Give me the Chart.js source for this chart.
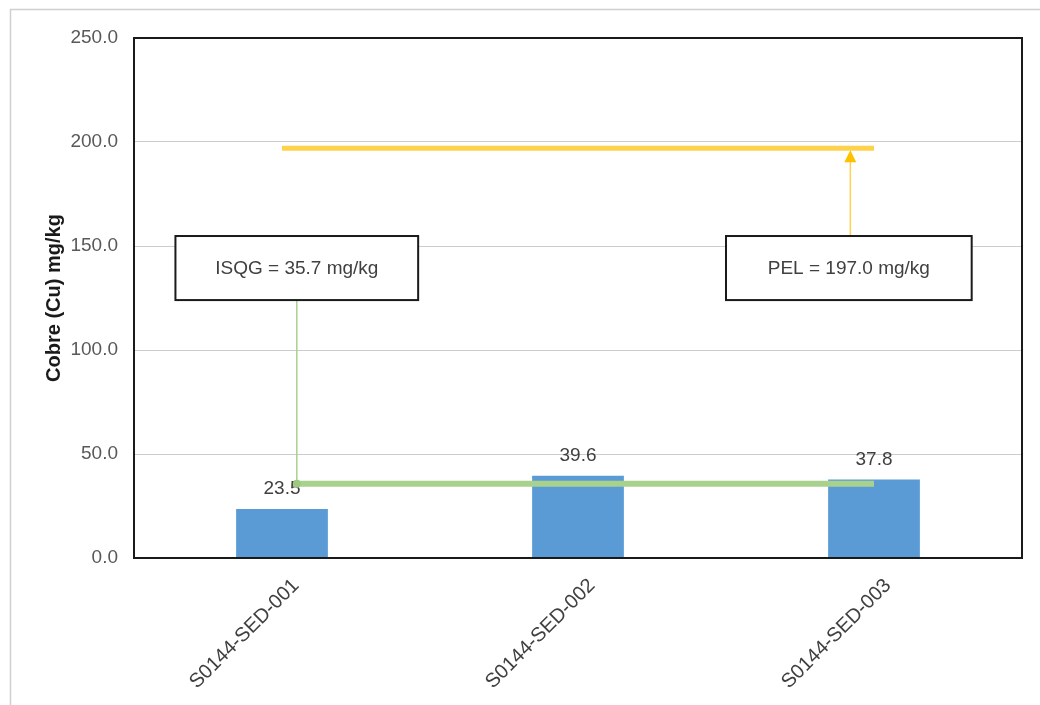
<!DOCTYPE html>
<html>
<head>
<meta charset="utf-8">
<script src="https://cdn.jsdelivr.net/npm/chart.js@4.4.1/dist/chart.umd.min.js"></script>
<style>
  html, body { margin: 0; padding: 0; background: #ffffff; }
  #wrap { width: 1040px; height: 705px; position: relative; }
</style>
</head>
<body>
<div id="wrap"><canvas id="chart" width="1040" height="705"></canvas></div>
<script>
// Sample stations and copper concentrations (mg/kg)
const categories = ['S0144-SED-001', 'S0144-SED-002', 'S0144-SED-003'];
const copperValues = [23.5, 39.6, 37.8];

// Sediment quality guidelines (mg/kg)
const isqgValue = 35.7;
const pelValue = 197.0;
const guidelineLabels = ['ISQG = 35.7 mg/kg', 'PEL = 197.0 mg/kg'];

// Guideline line extents, in station index units
const isqgSpan = [0.04, 2.0];
const pelSpan = [0.0, 2.0];

// Y axis range
const yMin = 0, yMax = 250, yStep = 50;

const FONT = "'Liberation Sans', Arial, sans-serif";
const TEXT = '#404040';

// Callout boxes: [xFrom, xTo] in station units, [yBottom, yTop] in mg/kg,
// plus the connector anchor (x in station units) and the guideline it points to
const callouts = [
  { text: guidelineLabels[0], x: [-0.36, 0.46], y: [124, 154.8], anchorX: 0.05, target: isqgValue, color: '#a9d18e', arrow: false, fromTop: false },
  { text: guidelineLabels[1], x: [1.5, 2.33], y: [124, 154.8], anchorX: 1.92, target: pelValue, color: '#ffd24d', arrow: true, fromTop: true }
];

const framePlugin = {
  id: 'frame',
  beforeDraw(chart) {
    const ctx = chart.ctx;
    ctx.save();
    ctx.fillStyle = '#ffffff';
    ctx.fillRect(0, 0, chart.width, chart.height);
    ctx.strokeStyle = '#cfcfcf';
    ctx.lineWidth = 1.5;
    ctx.beginPath();
    ctx.moveTo(10.5, chart.height);
    ctx.lineTo(10.5, 9.5);
    ctx.lineTo(chart.width, 9.5);
    ctx.stroke();
    ctx.restore();
  },
  afterDatasetsDraw(chart) {
    const ctx = chart.ctx;
    const a = chart.chartArea;
    const xs = chart.scales.x;
    const ys = chart.scales.y;

    // value labels above bars
    const meta = chart.getDatasetMeta(0);
    ctx.save();
    ctx.font = '19px ' + FONT;
    ctx.fillStyle = TEXT;
    ctx.textAlign = 'center';
    ctx.textBaseline = 'middle';
    meta.data.forEach((bar, i) => {
      ctx.fillText(copperValues[i].toFixed(1), bar.x, bar.y - 20);
    });
    ctx.restore();

    // connectors and callout boxes
    callouts.forEach(c => {
      const left = xs.getPixelForValue(c.x[0]);
      const right = xs.getPixelForValue(c.x[1]);
      const top = ys.getPixelForValue(c.y[1]);
      const bottom = ys.getPixelForValue(c.y[0]);
      const ax = xs.getPixelForValue(c.anchorX);
      const ty = ys.getPixelForValue(c.target);

      ctx.save();
      ctx.strokeStyle = c.color;
      ctx.lineWidth = 1.5;
      ctx.beginPath();
      if (c.fromTop) {
        ctx.moveTo(ax, top);
        ctx.lineTo(ax, ty + 12);
      } else {
        ctx.moveTo(ax, bottom);
        ctx.lineTo(ax, ty);
      }
      ctx.stroke();
      if (c.arrow) {
        ctx.fillStyle = '#ffc000';
        ctx.beginPath();
        ctx.moveTo(ax, ty + 2);
        ctx.lineTo(ax - 6, ty + 14);
        ctx.lineTo(ax + 6, ty + 14);
        ctx.closePath();
        ctx.fill();
      } else {
        ctx.fillStyle = '#9cc97f';
        ctx.beginPath();
        ctx.ellipse(ax, ty, 4, 4, 0, 0, Math.PI * 2);
        ctx.fill();
      }

      ctx.fillStyle = '#ffffff';
      ctx.fillRect(left, top, right - left, bottom - top);
      ctx.strokeStyle = '#1a1a1a';
      ctx.lineWidth = 2;
      ctx.strokeRect(left, top, right - left, bottom - top);
      ctx.font = '19px ' + FONT;
      ctx.fillStyle = TEXT;
      ctx.textAlign = 'center';
      ctx.textBaseline = 'middle';
      ctx.fillText(c.text, (left + right) / 2, (top + bottom) / 2 + 1);
      ctx.restore();
    });

    // plot border
    ctx.save();
    ctx.strokeStyle = '#1a1a1a';
    ctx.lineWidth = 2;
    ctx.strokeRect(a.left, a.top, a.right - a.left, a.bottom - a.top);
    ctx.restore();
  }
};

new Chart(document.getElementById('chart'), {
  type: 'bar',
  data: {
    datasets: [
      {
        type: 'bar',
        label: 'Cobre (Cu)',
        data: copperValues.map((v, i) => ({ x: i, y: v })),
        backgroundColor: '#5b9bd5',
        borderWidth: 0,
        barPercentage: 0.31,
        categoryPercentage: 1.0,
        order: 2
      },
      {
        type: 'line',
        label: 'ISQG',
        data: isqgSpan.map(x => ({ x: x, y: isqgValue })),
        borderColor: '#a9d18e',
        borderWidth: 6,
        pointRadius: 0,
        order: 1
      },
      {
        type: 'line',
        label: 'PEL',
        data: pelSpan.map(x => ({ x: x, y: pelValue })),
        borderColor: '#ffd24d',
        borderWidth: 5,
        pointRadius: 0,
        order: 1
      }
    ]
  },
  options: {
    responsive: false,
    animation: false,
    layout: { padding: { left: 10, top: 38, right: 18, bottom: 0 } },
    plugins: {
      legend: { display: false },
      tooltip: { enabled: false }
    },
    scales: {
      x: {
        type: 'linear',
        min: -0.5,
        max: 2.5,
        offset: false,
        grid: { display: false, drawTicks: false },
        border: { display: false },
        afterBuildTicks(scale) {
          scale.ticks = categories.map((_, i) => ({ value: i }));
        },
        ticks: {
          minRotation: 45,
          maxRotation: 45,
          autoSkip: false,
          padding: 16,
          labelOffset: 14,
          color: TEXT,
          font: { family: FONT, size: 20 },
          callback: v => categories[v]
        },
        afterFit(scale) { scale.height = 147; }
      },
      y: {
        min: yMin,
        max: yMax,
        ticks: {
          stepSize: yStep,
          padding: 16,
          color: '#595959',
          font: { family: FONT, size: 19 },
          callback: v => Number(v).toFixed(1)
        },
        grid: { color: '#cccccc', lineWidth: 1, drawTicks: false },
        border: { display: false },
        title: {
          display: true,
          text: 'Cobre (Cu) mg/kg',
          color: '#1a1a1a',
          font: { family: FONT, size: 20, weight: 'bold' },
          padding: { top: 32, bottom: 0 }
        },
        afterFit(scale) { scale.width = 124; }
      }
    }
  },
  plugins: [framePlugin]
});
</script>
</body>
</html>
